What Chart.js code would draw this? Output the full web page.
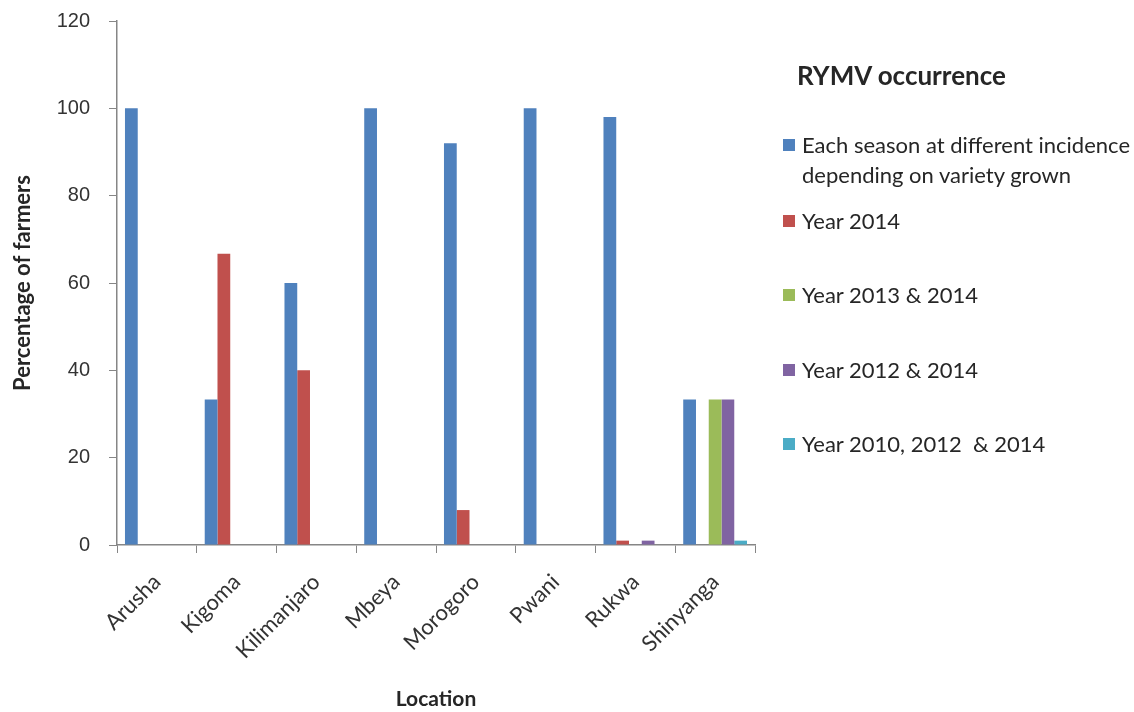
<!DOCTYPE html>
<html><head><meta charset="utf-8">
<script src="https://cdn.jsdelivr.net/npm/chart.js@4.4.0/dist/chart.umd.min.js"></script>
<style>
html,body{margin:0;padding:0;background:#fff;}
#wrap{position:relative;width:1134px;height:712px;overflow:hidden;}
#c{position:absolute;left:0;top:-10px;}
.lt{position:absolute;left:797px;top:59px;font:bold 26px Lato;color:#262626;white-space:nowrap;}
.li{position:absolute;left:783px;font:22px Lato;color:#262626;line-height:30px;white-space:pre;}
.li .sw{position:absolute;left:0;top:9px;width:12px;height:12px;}
.li .tx{margin-left:19px;display:block;}
</style></head>
<body><div id="wrap"><canvas id="c" width="1134" height="722"></canvas><div id="legend"></div></div>
<script>
const categories = ['Arusha','Kigoma','Kilimanjaro','Mbeya','Morogoro','Pwani','Rukwa','Shinyanga'];
const seriesNames = ['Each season at different incidence\ndepending on variety grown','Year 2014','Year 2013 & 2014','Year 2012 & 2014','Year 2010, 2012  & 2014'];
const seriesColors = ['#4F81BD','#C0504D','#9BBB59','#8064A2','#4BACC6'];
const eachSeason = [100,33.3,60,100,92,100,98,33.3];
const year2014 = [0,66.7,40,0,8,0,1,0];
const year2013and2014 = [0,0,0,0,0,0,0,33.3];
const year2012and2014 = [0,0,0,0,0,0,1,33.3];
const year2010and2012and2014 = [0,0,0,0,0,0,0,1];
const yTicks = [0,20,40,60,80,100,120];
const legendTitle = 'RYMV occurrence';
const yTitle = 'Percentage of farmers';
const xTitle = 'Location';

const seriesValues = [eachSeason, year2014, year2013and2014, year2012and2014, year2010and2012and2014];

const datasets = seriesNames.map((n,i)=>({
  label: n,
  data: seriesValues[i],
  backgroundColor: seriesColors[i],
  borderWidth: 0,
  categoryPercentage: 0.8,
  barPercentage: 1.0
}));

const axisColor = '#868686';
new Chart(document.getElementById('c'), {
  type: 'bar',
  data: { labels: categories, datasets },
  options: {
    responsive: false,
    animation: false,
    devicePixelRatio: 1,
    layout: { padding: { left: 0, right: 1134 - 755, top: 9, bottom: 0 } },
    plugins: { legend: { display: false }, tooltip: { enabled: false } },
    scales: {
      x: {
        grid: { display: true, drawOnChartArea: false, drawTicks: true, tickLength: 8, color: axisColor, offset: true },
        border: { display: true, color: axisColor, width: 1.5 },
        ticks: { color: '#333', font: { family: 'Lato', size: 22 }, minRotation: 45, maxRotation: 45, padding: 16, autoSkip: false },
        title: { display: true, text: xTitle, color: '#262626', font: { family: 'Lato', size: 21, weight: 'bold' }, padding: { top: 0, bottom: 0 } },
        afterFit: s => { s.height = 712 - 545; }
      },
      y: {
        min: 0, max: 120,
        afterBuildTicks: s => { s.ticks = yTicks.map(v => ({ value: v })); },
        grid: { display: true, drawOnChartArea: false, drawTicks: true, tickLength: 8, color: axisColor },
        border: { display: true, color: axisColor, width: 1.5 },
        ticks: { color: '#333', font: { family: 'Liberation Sans', size: 20 }, padding: 19 },
        title: { display: true, text: yTitle, color: '#262626', font: { family: 'Lato', size: 22, weight: 'bold' }, padding: { top: 10, bottom: 0 } },
        afterFit: s => { s.width = 117; }
      }
    }
  }
});

// HTML legend built from the series arrays
const legendTops = [130, 206, 280, 355, 429];
const lg = document.getElementById('legend');
const t = document.createElement('div');
t.className = 'lt'; t.textContent = legendTitle; lg.appendChild(t);
seriesNames.forEach((n,i)=>{
  const d = document.createElement('div');
  d.className = 'li'; d.style.top = legendTops[i] + 'px';
  const sw = document.createElement('span'); sw.className = 'sw'; sw.style.background = seriesColors[i];
  const tx = document.createElement('span'); tx.className = 'tx'; tx.textContent = n;
  d.appendChild(sw); d.appendChild(tx); lg.appendChild(d);
});
</script>
</body></html>
